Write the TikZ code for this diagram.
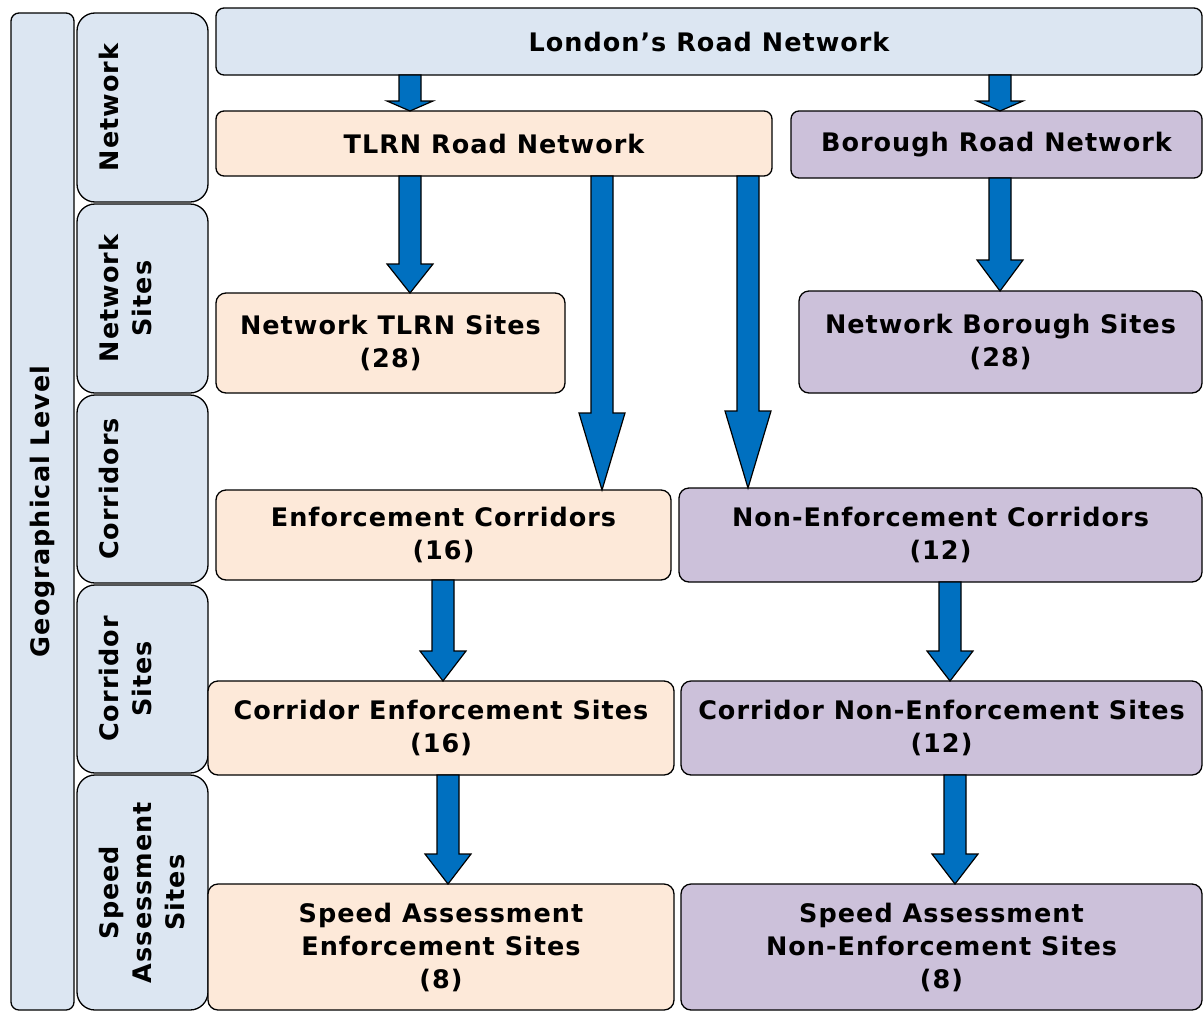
\documentclass[tikz,border=0pt]{standalone}
\usepackage{fontspec}
\setmainfont{DejaVu Sans}[LetterSpace=4]
\usepackage{tikz}
\usetikzlibrary{calc}
\definecolor{levelblue}{HTML}{DCE6F2}
\definecolor{tlrnpeach}{HTML}{FDE9D9}
\definecolor{borolilac}{HTML}{CCC1DA}
\definecolor{arrowblue}{HTML}{0070C0}
\tikzset{box/.style={draw=black, line width=1.3pt, rounded corners=10pt, align=center,
                     inner sep=0pt, outer sep=0pt, font=\bfseries\fontsize{25.5}{33}\selectfont},
         levelbox/.style={box, fill=levelblue, rounded corners=18pt, rotate=90},
         leveltext/.style={align=center, inner sep=0pt, rotate=90, anchor=north,
                           font=\bfseries\fontsize{25.5}{33}\selectfont},
         tlrnbox/.style={box, fill=tlrnpeach},
         borobox/.style={box, fill=borolilac},
         barrow/.style={fill=arrowblue, draw=black, line width=1.2pt, line join=miter}}
% Blockpfeil: x-Position, von Knoten, zu Knoten, Laenge der Spitze
\newcommand{\blockarrow}[4]{%
  \filldraw[barrow] let \p1=(#2.south), \p2=(#3.north) in
    ({#1pt-11pt},\y1) -- ({#1pt-11pt},{\y2+#4pt}) -- ({#1pt-23pt},{\y2+#4pt}) -- ({#1pt},\y2)
    -- ({#1pt+23pt},{\y2+#4pt}) -- ({#1pt+11pt},{\y2+#4pt}) -- ({#1pt+11pt},\y1) -- cycle;}
\begin{document}
\begin{tikzpicture}[x=1pt, y=-1pt]
\useasboundingbox (0,0) rectangle (1204,1012);
% Die Ebenen links:
\node[levelbox, rounded corners=8pt, minimum width=997pt, minimum height=63pt] (geo) at (42.5,511.5) {Geographical Level};
\foreach \name/\yc/\h/\txt in {lvnet/107.5/189/{Network}, lvnsites/298.5/189/{Network\\Sites},
    lvcorr/489/188/{Corridors}, lvcsites/679/188/{Corridor\\Sites},
    lvspeed/892.5/235/{Speed\\Assessment\\Sites}}
  {\node[levelbox, minimum width=\h pt, minimum height=131pt] (\name) at (142.5,\yc) {};
   \node[leveltext] (\name-text) at ([xshift=22pt]\name.north) {\txt};}
% Die Netze:
\node[box, fill=levelblue, rounded corners=8pt, minimum width=986pt, minimum height=67pt] (london) at (709,41.5) {London’s Road Network};
\node[tlrnbox, rounded corners=8pt, minimum width=556pt, minimum height=65pt] (tlrn) at (494,143.5) {TLRN Road Network};
\node[borobox, rounded corners=8pt, minimum width=411pt, minimum height=67pt] (borough) at (996.5,144.5) {Borough Road Network};
\node[tlrnbox, minimum width=349pt, minimum height=100pt] (ntlrn) at (390.5,343) {Network TLRN Sites\\(28)};
\node[borobox, minimum width=403pt, minimum height=102pt] (nboro) at (1000.5,342) {Network Borough Sites\\(28)};
% Korridore:
\node[tlrnbox, minimum width=455pt, minimum height=90pt] (encorr) at (443.5,535) {Enforcement Corridors\\(16)};
\node[borobox, minimum width=523pt, minimum height=94pt] (nencorr) at (940.5,535) {Non-Enforcement Corridors\\(12)};
\node[tlrnbox, minimum width=466pt, minimum height=94pt] (cesites) at (441,728) {Corridor Enforcement Sites\\(16)};
\node[borobox, minimum width=521pt, minimum height=94pt] (cnesites) at (941.5,728) {Corridor Non-Enforcement Sites\\(12)};
\node[tlrnbox, minimum width=466pt, minimum height=126pt] (saes) at (441,947) {Speed Assessment\\Enforcement Sites\\(8)};
\node[borobox, minimum width=521pt, minimum height=126pt] (sanes) at (941.5,947) {Speed Assessment\\Non-Enforcement Sites\\(8)};
% Pfeile:
\blockarrow{410}{london}{tlrn}{10}
\blockarrow{1000}{london}{borough}{10}
\blockarrow{410}{tlrn}{ntlrn}{29}
\blockarrow{602}{tlrn}{encorr}{77}
\blockarrow{748}{tlrn}{nencorr}{77}
\blockarrow{1000}{borough}{nboro}{31}
\blockarrow{443}{encorr}{cesites}{30}
\blockarrow{950}{nencorr}{cnesites}{30}
\blockarrow{448}{cesites}{saes}{30}
\blockarrow{955}{cnesites}{sanes}{30}
\end{tikzpicture}
\end{document}
